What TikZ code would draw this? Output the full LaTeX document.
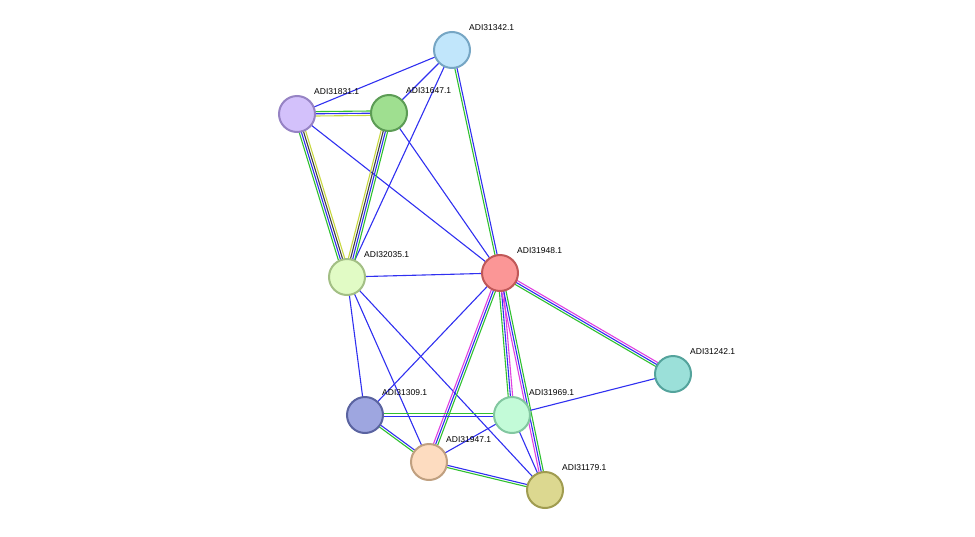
\documentclass[tikz,border=0pt]{standalone}
\usepackage{fontspec}
\setmainfont{Liberation Sans}
\usetikzlibrary{calc}
\definecolor{eb}{HTML}{3030F0}
\definecolor{eg}{HTML}{30C030}
\definecolor{ey}{HTML}{C8D840}
\definecolor{em}{HTML}{E040E0}
\definecolor{ek}{HTML}{404040}
\definecolor{f342}{HTML}{C1E6FB}\definecolor{d342}{HTML}{76A6C4}
\definecolor{f831}{HTML}{D3C1FB}\definecolor{d831}{HTML}{9683C4}
\definecolor{f647}{HTML}{9FDF90}\definecolor{d647}{HTML}{5C9C55}
\definecolor{f035}{HTML}{E1FBC5}\definecolor{d035}{HTML}{A3BF85}
\definecolor{f948}{HTML}{FB9696}\definecolor{d948}{HTML}{C05858}
\definecolor{f242}{HTML}{9BE0D9}\definecolor{d242}{HTML}{54A39C}
\definecolor{f309}{HTML}{9EA6E0}\definecolor{d309}{HTML}{5A63A0}
\definecolor{f969}{HTML}{C3FBD8}\definecolor{d969}{HTML}{82C7A0}
\definecolor{f947}{HTML}{FDDCC0}\definecolor{d947}{HTML}{C0A080}
\definecolor{f179}{HTML}{DCD890}\definecolor{d179}{HTML}{A09C50}
\newcommand\pe[4]{%
  \foreach \cc [count=\i] in {#4} {%
    \pgfmathsetmacro\oo{(\i-1-(#3-1)/2)*2.2}%
    \draw[\cc,line width=1.1pt] ($(#1)!\oo pt!90:(#2)$) -- ($(#2)!\oo pt!-90:(#1)$);
  }}
\newcommand\pn[2]{%
  \node[pn,fill=f#1,draw=d#1] (n#1) at (A#1) {};
  \node[lab] (l#1) at ($(A#1)+(17,-22)$) {#2};}
\tikzset{
  pn/.style={circle,minimum size=36pt,inner sep=0,line width=2pt},
  lab/.style={anchor=west,font=\fontsize{8.5pt}{10pt}\selectfont,inner sep=0}
}
\begin{document}
\begin{tikzpicture}[x=1pt,y=-1pt]
\useasboundingbox (0,0) rectangle (975,536);
\path
 (452,50) coordinate (A342)
 (297,114) coordinate (A831)
 (389,113) coordinate (A647)
 (347,277) coordinate (A035)
 (500,273) coordinate (A948)
 (673,374) coordinate (A242)
 (365,415) coordinate (A309)
 (512,415) coordinate (A969)
 (429,462) coordinate (A947)
 (545,490) coordinate (A179);
% edges
\pe{A342}{A831}{1}{eb}
\pe{A342}{A647}{1}{eb}
\pe{A342}{A035}{1}{eb}
\pe{A342}{A948}{2}{eg,eb}
\pe{A831}{A647}{3}{ey,eb,eg}
\pe{A831}{A035}{4}{eg,eb,ek,ey}
\pe{A831}{A948}{1}{eb}
\pe{A647}{A035}{4}{ey,ek,eb,eg}
\pe{A647}{A948}{1}{eb}
\pe{A035}{A948}{1}{eb}
\pe{A035}{A309}{1}{eb}
\pe{A035}{A947}{1}{eb}
\pe{A035}{A179}{1}{eb}
\pe{A948}{A309}{1}{eb}
\pe{A948}{A947}{3}{em,eb,eg}
\pe{A948}{A969}{3}{eg,eb,em}
\pe{A948}{A179}{3}{em,eb,eg}
\pe{A948}{A242}{3}{eg,eb,em}
\pe{A969}{A242}{1}{eb}
\pe{A309}{A969}{2}{eb,eg}
\pe{A309}{A947}{2}{eg,eb}
\pe{A969}{A947}{1}{eb}
\pe{A969}{A179}{1}{eb}
\pe{A947}{A179}{2}{eg,eb}
% nodes
\pn{342}{ADI31342.1}
\pn{831}{ADI31831.1}
\pn{647}{ADI31647.1}
\pn{035}{ADI32035.1}
\pn{948}{ADI31948.1}
\pn{242}{ADI31242.1}
\pn{309}{ADI31309.1}
\pn{969}{ADI31969.1}
\pn{947}{ADI31947.1}
\pn{179}{ADI31179.1}
\end{tikzpicture}
\end{document}
